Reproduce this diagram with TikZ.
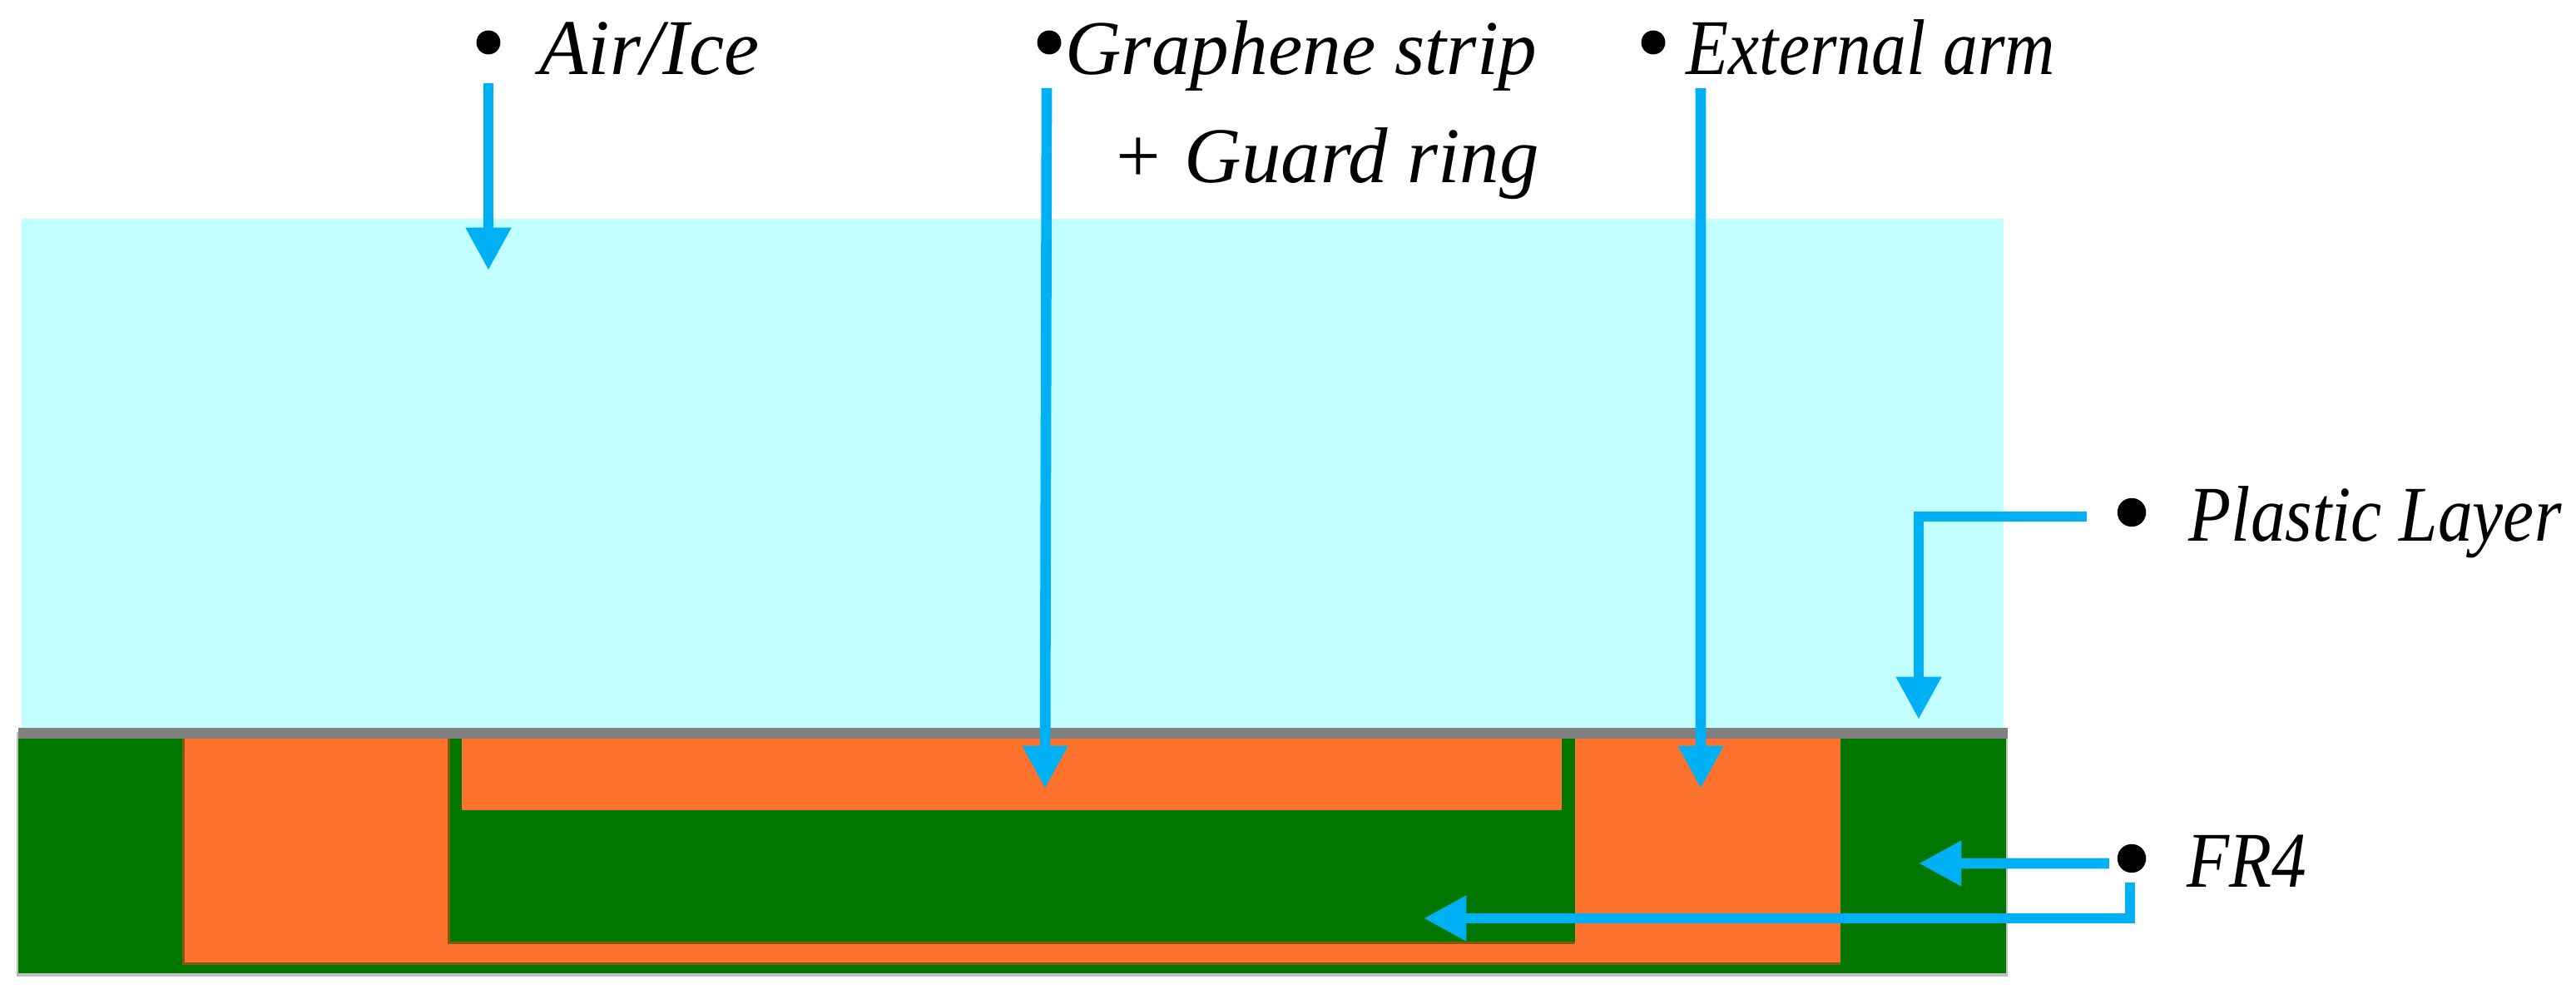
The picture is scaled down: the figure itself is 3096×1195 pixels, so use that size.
\documentclass[tikz,border=0pt]{standalone}
\usepackage{fontspec}
\setmainfont{Liberation Serif}
\newfontfamily\narrowfont[FakeStretch=0.88]{Liberation Serif}
\usetikzlibrary{arrows.meta}
\definecolor{iceblue}{HTML}{C2FFFF}
\definecolor{plasticgray}{HTML}{808080}
\definecolor{frgreen}{HTML}{007800}
\definecolor{copperorange}{HTML}{FF722E}
\definecolor{edgebrown}{HTML}{7F5A10}
\definecolor{arrowblue}{HTML}{00B0F5}
\tikzset{arrow/.style = {draw=arrowblue,line width=3.6pt,-{Triangle[length=14.6pt,width=14.6pt,fill=arrowblue]}}}
\tikzset{dot/.style = {circle,fill=black,inner sep=0pt,minimum size=8.2pt}}
\tikzset{lbl/.style = {font=\fontsize{27}{37}\selectfont\itshape,inner sep=0pt,anchor=base west}}
\tikzset{narrowlbl/.style = {lbl,font=\fontsize{27}{37}\narrowfont\itshape}}

\begin{document}
\begin{tikzpicture}[x=0.01cm,y=-0.01cm]
\useasboundingbox (0,0) rectangle (3096,1195);

% layers
\fill[iceblue] (26,263) rectangle (2408,880);
\fill[black!25] (20,880) rectangle (2413,1174);
\fill[frgreen] (22,880) rectangle (2411,1170);
\fill[plasticgray] (22,875) rectangle (2413,888);

% electrodes
\fill[edgebrown] (219,888) rectangle (2212,1160);
\fill[copperorange] (222,888) rectangle (2212,1157);
\fill[edgebrown] (538,888) rectangle (1893,1135);
\fill[frgreen] (541,888) rectangle (1893,1132);
\fill[copperorange] (555,888) rectangle (1877,974);

% labels
\node[dot] (air) at (587,51) {};
\node[dot] (graphene) at (1261,51) {};
\node[dot] (external) at (1987,51) {};
\node[dot,minimum size=9.8pt] (plastic) at (2562,616) {};
\node[dot,minimum size=9.8pt] (fr) at (2562,1032) {};

\node[lbl] (airtext) at (648,90) {Air/Ice};
\node[lbl,font=\fontsize{26.5}{37}\selectfont\itshape] (graphenetext) at (1280,90) {Graphene strip};
\node[lbl] (guardtext) at (1335,220) {+ Guard ring};
\node[narrowlbl] (externaltext) at (2026,90) {External arm};
\node[narrowlbl] (plastictext) at (2630,651) {Plastic Layer};
\node[narrowlbl] (frtext) at (2628,1067) {FR4};

% arrow ends
\coordinate (airend) at (587,325);
\coordinate (grapheneend) at (1256,948);
\coordinate (externalend) at (2044,948);
\coordinate (plasticend) at (2306,865);
\coordinate (frend) at (2306,1038);
\coordinate (stripend) at (1711,1104);

\draw[arrow] ([yshift=-9.7pt]air.south) -- (airend);
\draw[arrow] ([xshift=-.85pt,yshift=-11.3pt]graphene.south) -- (grapheneend);
\draw[arrow] ([xshift=16.2pt,yshift=-11.4pt]external.south) -- (externalend);
\draw[arrow] ([xshift=-10.2pt,yshift=-1.4pt]plastic.west) -| (plasticend);
\draw[arrow] ([xshift=-2.6pt,yshift=-1.7pt]fr.west) -- (frend);
\draw[arrow] ([xshift=-.57pt,yshift=-3.1pt]fr.south) |- (stripend);
\end{tikzpicture}
\end{document}
